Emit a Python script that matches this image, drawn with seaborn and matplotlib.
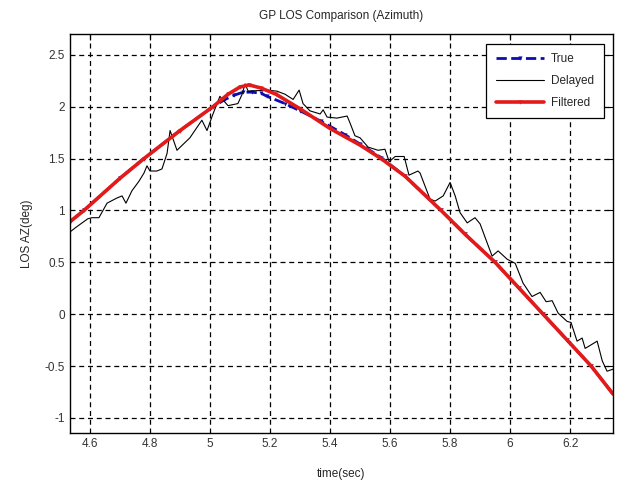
import matplotlib
matplotlib.use("Agg")
import matplotlib.pyplot as plt
import seaborn as sns

# ---- data ----
true_t = [4.533, 4.58, 4.7, 4.78, 4.9, 5.0, 5.05, 5.08, 5.11, 5.14, 5.17, 5.19,
          5.25, 5.3, 5.37, 5.45, 5.5, 5.57, 5.65, 5.77, 5.85, 5.95, 6.03, 6.11,
          6.19, 6.27, 6.343]
true_az = [0.89, 1.00, 1.31, 1.50, 1.77, 1.98, 2.07, 2.11, 2.14, 2.14, 2.13, 2.10,
           2.03, 1.96, 1.86, 1.73, 1.64, 1.51, 1.33, 1.00, 0.77, 0.50, 0.25, 0.00,
           -0.25, -0.50, -0.77]

delayed_t = [4.537, 4.55, 4.593, 4.607, 4.63, 4.657, 4.69, 4.707, 4.72, 4.74,
             4.763, 4.78, 4.79, 4.80, 4.823, 4.84, 4.857, 4.867, 4.89, 4.933,
             4.973, 4.99, 5.01, 5.033, 5.06, 5.093, 5.107, 5.117, 5.127, 5.19,
             5.223, 5.25, 5.277, 5.297, 5.31, 5.333, 5.367, 5.377, 5.39, 5.423,
             5.457, 5.467, 5.483, 5.5, 5.527, 5.56, 5.583, 5.597, 5.617, 5.647,
             5.663, 5.693, 5.70, 5.733, 5.75, 5.777, 5.80, 5.817, 5.833, 5.857,
             5.883, 5.90, 5.927, 5.94, 5.96, 5.99, 6.017, 6.043, 6.073, 6.10,
             6.12, 6.14, 6.16, 6.19, 6.203, 6.223, 6.24, 6.25, 6.273, 6.29,
             6.307, 6.323, 6.343]
delayed_az = [0.80, 0.83, 0.92, 0.93, 0.93, 1.07, 1.12, 1.14, 1.07, 1.19,
              1.28, 1.36, 1.43, 1.38, 1.38, 1.40, 1.55, 1.77, 1.58, 1.70,
              1.87, 1.77, 1.93, 2.10, 2.01, 2.03, 2.12, 2.22, 2.15, 2.16,
              2.15, 2.12, 2.07, 2.16, 2.03, 1.96, 1.93, 1.97, 1.90, 1.89,
              1.91, 1.84, 1.72, 1.70, 1.61, 1.58, 1.59, 1.47, 1.52, 1.52,
              1.34, 1.38, 1.36, 1.11, 1.09, 1.14, 1.27, 1.14, 0.98, 0.88,
              0.93, 0.87, 0.66, 0.56, 0.61, 0.53, 0.49, 0.30, 0.17, 0.21,
              0.12, 0.13, 0.01, -0.07, -0.08, -0.26, -0.23, -0.33, -0.29, -0.26,
              -0.45, -0.55, -0.53]

filt_t = [4.533, 4.58, 4.7, 4.78, 4.9, 5.01, 5.06, 5.10, 5.13, 5.17, 5.22, 5.3,
          5.4, 5.5, 5.57, 5.65, 5.77, 5.85, 5.95, 6.03, 6.11, 6.19, 6.27, 6.343]
filt_az = [0.89, 1.00, 1.31, 1.50, 1.77, 2.00, 2.12, 2.19, 2.21, 2.18, 2.12, 1.98,
           1.79, 1.63, 1.50, 1.33, 1.00, 0.77, 0.50, 0.25, 0.00, -0.25, -0.50, -0.77]

xticks = [4.6, 4.8, 5.0, 5.2, 5.4, 5.6, 5.8, 6.0, 6.2]
xtick_labels = ["4.6", "4.8", "5", "5.2", "5.4", "5.6", "5.8", "6", "6.2"]
yticks = [-1, -0.5, 0, 0.5, 1, 1.5, 2, 2.5]
ytick_labels = ["-1", "-0.5", "0", "0.5", "1", "1.5", "2", "2.5"]

sns.set_style("white")
plt.rcParams['font.family'] = ['Liberation Sans', 'DejaVu Sans']
plt.rcParams['font.size'] = 8.5

fig = plt.figure(figsize=(6.18, 4.8), dpi=100)
ax = fig.add_axes([0.113, 0.098, 0.879, 0.831])

sns.lineplot(x=true_t, y=true_az, ax=ax, color='#0c0cb0', linestyle='--',
             linewidth=2, marker='v', markersize=3, markeredgewidth=0,
             label='True')
sns.lineplot(x=delayed_t, y=delayed_az, ax=ax, color='black', linewidth=0.8,
             label='Delayed')
sns.lineplot(x=filt_t, y=filt_az, ax=ax, color='#e31a1a', linewidth=2.6,
             marker='v', markersize=3, markeredgewidth=0, label='Filtered')

ax.set_xlim(4.533, 6.343)
ax.set_ylim(-1.145, 2.70)
ax.set_xticks(xticks)
ax.set_xticklabels(xtick_labels)
ax.set_yticks(yticks)
ax.set_yticklabels(ytick_labels)

ax.grid(True, color='black', linestyle=(0, (4, 3)), linewidth=0.9)
ax.tick_params(direction='in', length=4, width=0.8, top=True, right=True,
               colors='black', labelcolor='#333333', labelsize=8.5)
for s in ax.spines.values():
    s.set_color('black')
    s.set_linewidth(1)

ax.set_title("GP LOS Comparison (Azimuth)", fontsize=8.5, pad=11)
ax.set_xlabel("time(sec)", fontsize=8.5, labelpad=13)
ax.set_ylabel("LOS AZ(deg)", fontsize=8.5, labelpad=8)

leg = ax.legend(loc='upper right', fancybox=False, framealpha=1,
                edgecolor='black', fontsize=8.5, handlelength=4.1,
                handletextpad=0.6, borderpad=0.8, borderaxespad=0.8,
                labelspacing=0.85)
leg.get_frame().set_linewidth(0.9)

fig.savefig("out.png", dpi=100)
